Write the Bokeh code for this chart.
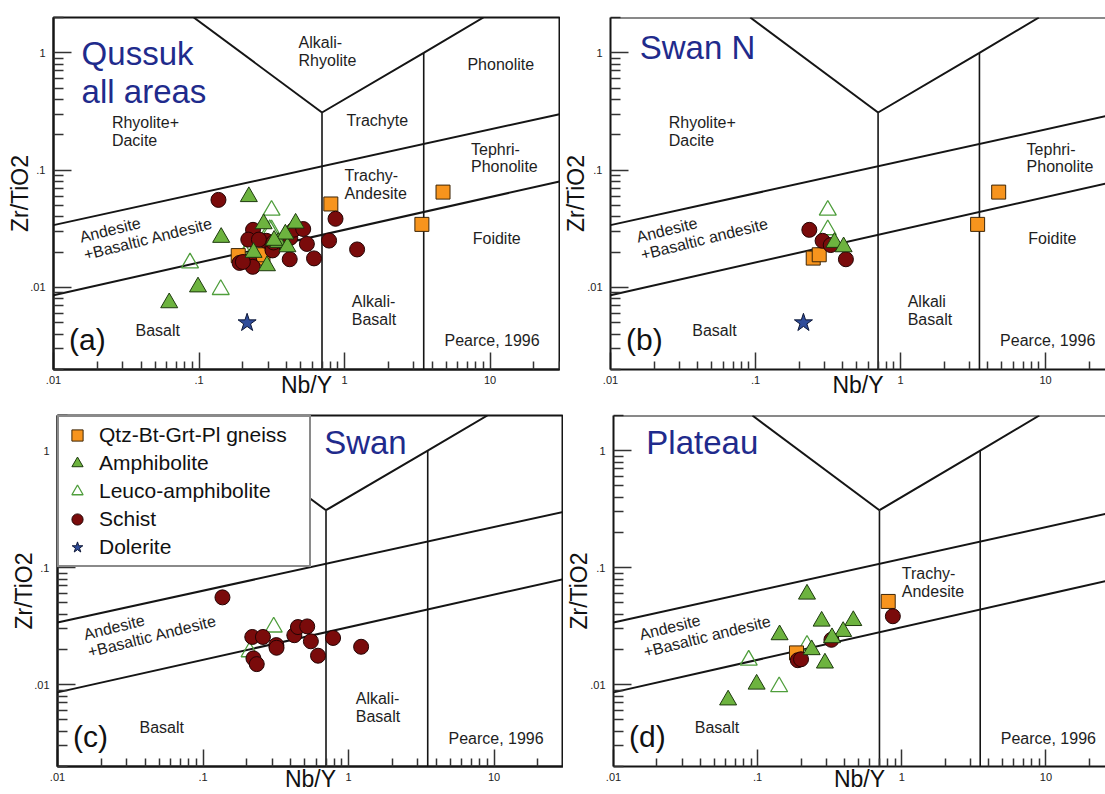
from bokeh.plotting import figure
from bokeh.models import FixedTicker, CustomJSTickFormatter, Legend, LegendItem, Span, Range1d
from bokeh.layouts import row, column
from bokeh.embed import file_html
from bokeh.resources import INLINE
from bokeh.core.properties import value

# ---------------- data: Nb/Y (x) and Zr/TiO2 (y) ----------------
# Swan N
swan_n_gneiss_x = [0.25, 0.275, 3.4, 4.75]
swan_n_gneiss_y = [0.0178, 0.0190, 0.0345, 0.065]
swan_n_amph_x = [0.35, 0.405]
swan_n_amph_y = [0.0242, 0.0222]
swan_n_leuco_x = [0.315, 0.315]
swan_n_leuco_y = [0.0455, 0.031]
swan_n_schist_x = [0.235, 0.29, 0.33, 0.42]
swan_n_schist_y = [0.031, 0.025, 0.023, 0.0174]
swan_n_dol_x = [0.214]
swan_n_dol_y = [0.005]
# Swan
swan_gneiss_x, swan_gneiss_y = [], []
swan_amph_x, swan_amph_y = [], []
swan_leuco_x = [0.306, 0.209]
swan_leuco_y = [0.0311, 0.0191]
swan_schist_x = [0.136, 0.218, 0.258, 0.319, 0.32, 0.222, 0.234, 0.424, 0.449, 0.52, 0.551, 0.617, 0.783, 1.22]
swan_schist_y = [0.0558, 0.0256, 0.0256, 0.0218, 0.0207, 0.0168, 0.015, 0.0265, 0.0311, 0.0315, 0.0235, 0.0177, 0.0251, 0.0211]
swan_dol_x, swan_dol_y = [], []
# Plateau
plateau_gneiss_x = [0.186, 0.805]
plateau_gneiss_y = [0.0187, 0.0515]
plateau_amph_x = [0.22, 0.278, 0.461, 0.392, 0.328, 0.142, 0.237, 0.293, 0.0984, 0.0624]
plateau_amph_y = [0.0594, 0.0349, 0.0353, 0.0285, 0.0252, 0.0267, 0.0199, 0.0153, 0.0101, 0.0074]
plateau_leuco_x = [0.0867, 0.141, 0.22]
plateau_leuco_y = [0.0162, 0.0096, 0.0217]
plateau_schist_x = [0.19, 0.2, 0.867, 0.325]
plateau_schist_y = [0.0162, 0.0165, 0.0385, 0.0242]
plateau_dol_x, plateau_dol_y = [], []

# field boundaries (Pearce 1996)
upper_line_x = [0.01, 30]
upper_line_y = [0.034, 0.30]
lower_line_x = [0.01, 30]
lower_line_y = [0.0086, 0.080]
left_arm_x = [0.092, 0.7]
left_arm_y = [2.0, 0.31]
right_arm_x = [0.7, 3.5, 9.0]
right_arm_y = [0.31, 1.0, 2.0]
vert_low_x = [0.7, 0.7]
vert_low_y = [0.002, 0.31]
vert_high_x = [3.5, 3.5]
vert_high_y = [0.002, 1.0]

# axis ticks
x_major = [0.01, 0.1, 1, 10]
x_minor = [m * d for d in (0.01, 0.1, 1, 10) for m in range(2, 10)]
y_major = [0.01, 0.1, 1]
y_minor = [m * d for d in (0.001, 0.01, 0.1, 1) for m in range(2, 10)]

rock_names = ["Qtz-Bt-Grt-Pl gneiss", "Amphibolite", "Leuco-amphibolite", "Schist", "Dolerite"]

FONT = "Liberation Sans"
TITLE_COLOR = "#1f2b8c"
LINE_COLOR = "#151515"

STYLES = {
    "gneiss": dict(marker="square", size=14, fill_color="#F7941D", line_color="#3d2608", line_width=1),
    "leuco": dict(marker="triangle", size=17, fill_color=None, line_color="#4f9e3c", line_width=1.3),
    "schist": dict(marker="circle", size=15, fill_color="#7A0B0B", line_color="#240404", line_width=1),
    "amph": dict(marker="triangle", size=17, fill_color="#6DB33F", line_color="#1d3a0e", line_width=1),
    "dol": dict(marker="star", size=19, fill_color="#2F4C9A", line_color="#0e1838", line_width=1),
}
DRAW_ORDER = ["leuco", "gneiss", "schist", "amph", "dol"]
LEGEND_ORDER = [("gneiss", rock_names[0]), ("amph", rock_names[1]), ("leuco", rock_names[2]),
                ("schist", rock_names[3]), ("dol", rock_names[4])]

area_swan_n = {"gneiss": (swan_n_gneiss_x, swan_n_gneiss_y), "amph": (swan_n_amph_x, swan_n_amph_y),
               "leuco": (swan_n_leuco_x, swan_n_leuco_y), "schist": (swan_n_schist_x, swan_n_schist_y),
               "dol": (swan_n_dol_x, swan_n_dol_y)}
area_swan = {"gneiss": (swan_gneiss_x, swan_gneiss_y), "amph": (swan_amph_x, swan_amph_y),
             "leuco": (swan_leuco_x, swan_leuco_y), "schist": (swan_schist_x, swan_schist_y),
             "dol": (swan_dol_x, swan_dol_y)}
area_plateau = {"gneiss": (plateau_gneiss_x, plateau_gneiss_y), "amph": (plateau_amph_x, plateau_amph_y),
                "leuco": (plateau_leuco_x, plateau_leuco_y), "schist": (plateau_schist_x, plateau_schist_y),
                "dol": (plateau_dol_x, plateau_dol_y)}
area_all = {k: (area_swan_n[k][0] + area_swan[k][0] + area_plateau[k][0],
                area_swan_n[k][1] + area_swan[k][1] + area_plateau[k][1]) for k in area_swan_n}

FIELD_TEXT = {"ar": "Alkali-\nRhyolite", "ph": "Phonolite", "rd": "Rhyolite+\nDacite", "tr": "Trachyte",
              "tp": "Tephri-\nPhonolite", "ta": "Trachy-\nAndesite", "fo": "Foidite", "ab": "Alkali-\nBasalt",
              "ab2": "Alkali\nBasalt", "ba": "Basalt", "pe": "Pearce, 1996"}
FIELD_POS = {"ar": (0.483, 1.03), "ph": (6.99, 0.80), "rd": (0.0252, 0.214), "tr": (1.03, 0.265),
             "tp": (7.4, 0.127), "ta": (1.0, 0.075), "fo": (7.6, 0.026), "ab": (1.12, 0.0064),
             "ab2": (1.12, 0.0064), "ba": (0.0366, 0.0043), "pe": (4.86, 0.0035)}

fmt_code = "const s = String(tick); return s.startsWith('0.') ? s.slice(1) : s;"
NAN = float("nan")


def make_panel(area, letter, title, title_xy, fields, andesite, width, height, left, right, top, bottom,
               x_end, full_outline, ylab_standoff, xlab_standoff, legend=False):
    p = figure(title=None, x_axis_type="log", y_axis_type="log",
               x_range=Range1d(0.01, x_end), y_range=Range1d(0.002, 2),
               width=width, height=height,
               min_border_left=left, min_border_right=right, min_border_top=top, min_border_bottom=bottom,
               output_backend="svg", toolbar_location=None)
    p.xgrid.grid_line_color = None
    p.ygrid.grid_line_color = None
    p.background_fill_color = "white"
    p.border_fill_color = "white"
    if full_outline:
        p.outline_line_color = LINE_COLOR
        p.outline_line_width = 2
    else:
        p.outline_line_color = None
        p.add_layout(Span(location=2, dimension="width", line_color=LINE_COLOR, line_width=2))

    for ax, maj, mn, tin, min_in, so in ((p.xaxis[0], x_major, x_minor, 17, 8, 6),
                                         (p.yaxis[0], y_major, y_minor, 18, 10, 8)):
        ax.ticker = FixedTicker(ticks=maj, minor_ticks=mn)
        ax.formatter = CustomJSTickFormatter(code=fmt_code)
        ax.major_tick_in = tin
        ax.major_tick_out = 0
        ax.minor_tick_in = min_in
        ax.minor_tick_out = 0
        ax.major_tick_line_width = 1.5
        ax.minor_tick_line_width = 1.5
        ax.major_tick_line_color = "#333333"
        ax.minor_tick_line_color = "#333333"
        ax.axis_line_width = 2
        ax.axis_line_color = LINE_COLOR
        ax.major_label_standoff = so
        ax.major_label_text_font = FONT
        ax.major_label_text_font_size = "11px"
        ax.major_label_text_color = "#222222"
        ax.axis_label_text_font = FONT
        ax.axis_label_text_font_size = "23px"
        ax.axis_label_text_font_style = "normal"
        ax.axis_label_text_color = "#111111"
    p.yaxis[0].major_label_orientation = "horizontal"
    p.xaxis[0].axis_label = "Nb/Y"
    p.xaxis[0].axis_label_standoff = xlab_standoff
    p.yaxis[0].axis_label = "Zr/TiO2"
    p.yaxis[0].axis_label_standoff = ylab_standoff

    # field boundaries
    p.multi_line(xs=[upper_line_x, lower_line_x, left_arm_x, right_arm_x],
                 ys=[upper_line_y, lower_line_y, left_arm_y, right_arm_y],
                 line_color=LINE_COLOR, line_width=2)
    p.multi_line(xs=[vert_low_x, vert_high_x], ys=[vert_low_y, vert_high_y],
                 line_color=LINE_COLOR, line_width=1.6)

    # field names
    p.text(x=[FIELD_POS[k][0] for k in fields], y=[FIELD_POS[k][1] for k in fields],
           text=[FIELD_TEXT[k] for k in fields], text_font=value(FONT), text_font_size="16px",
           text_align="left", text_baseline="middle", text_color="#1e1e1e", text_line_height=1.05)
    p.text(x=[0.0157], y=[0.0225], text=[andesite], angle=14, angle_units="deg",
           text_font=value(FONT), text_font_size="16px", text_align="left", text_baseline="middle",
           text_color="#1e1e1e", text_line_height=1.05)

    # title and panel letter
    p.text(x=[title_xy[0]], y=[title_xy[1]], text=[title], text_font=value(FONT), text_font_size="33px",
           text_align="left", text_baseline="middle", text_color=TITLE_COLOR, text_line_height=1.05)
    p.text(x=[0.0128], y=[0.0036], text=[letter], text_font=value(FONT), text_font_size="30px",
           text_align="left", text_baseline="middle", text_color="#111111")

    # points
    rend = {}
    for key in DRAW_ORDER:
        xs, ys = area[key]
        rend[key] = p.scatter(x=xs, y=ys, **STYLES[key])

    if legend:
        items = []
        for k, name in LEGEND_ORDER:
            r = rend[k]
            if len(area[k][0]) == 0:
                # legend-only proxy (no visible mark) for rock types absent from this area
                r = p.scatter(x=[NAN], y=[NAN], **STYLES[k])
            items.append(LegendItem(label=name, renderers=[r]))
        lg = Legend(items=items, location="top_left", margin=0, padding=4, spacing=0,
                    glyph_width=28, glyph_height=28, label_standoff=8, label_width=206,
                    label_height=28,
                    label_text_font=FONT, label_text_font_size="21px", label_text_color="#111111",
                    label_text_baseline="middle",
                    border_line_color=LINE_COLOR, border_line_width=2,
                    background_fill_color="white", background_fill_alpha=1.0)
        p.add_layout(lg)
    return p


pa = make_panel(area_all, "(a)", "Qussuk\nall areas", (0.0156, 0.68),
                ["ar", "ph", "rd", "tr", "tp", "ta", "fo", "ab", "ba", "pe"],
                "Andesite\n+Basaltic Andesite", 560, 400, 53, 1, 17, 30, 30, True, -6, -15)
pb = make_panel(area_swan_n, "(b)", "Swan N", (0.0159, 1.10),
                ["rd", "tp", "fo", "ab2", "ba", "pe"],
                "Andesite\n+Basaltic andesite", 545, 400, 48, 0, 17, 30, 25.9, False, -5, -15)
pc = make_panel(area_swan, "(c)", "Swan", (0.68, 1.18),
                ["ab", "ba", "pe"],
                "Andesite\n+Basaltic Andesite", 563, 394, 57, 0, 15, 27, 30, True, -6, -18, legend=True)
pd = make_panel(area_plateau, "(d)", "Plateau", (0.0169, 1.18),
                ["ta", "ba", "pe"],
                "Andesite\n+Basaltic andesite", 542, 394, 45, 0, 15, 27, 25.9, False, -5, -18)

layout = column(row(pa, pb), row(pc, pd))
open("out.html", "w").write(file_html(layout, INLINE))
